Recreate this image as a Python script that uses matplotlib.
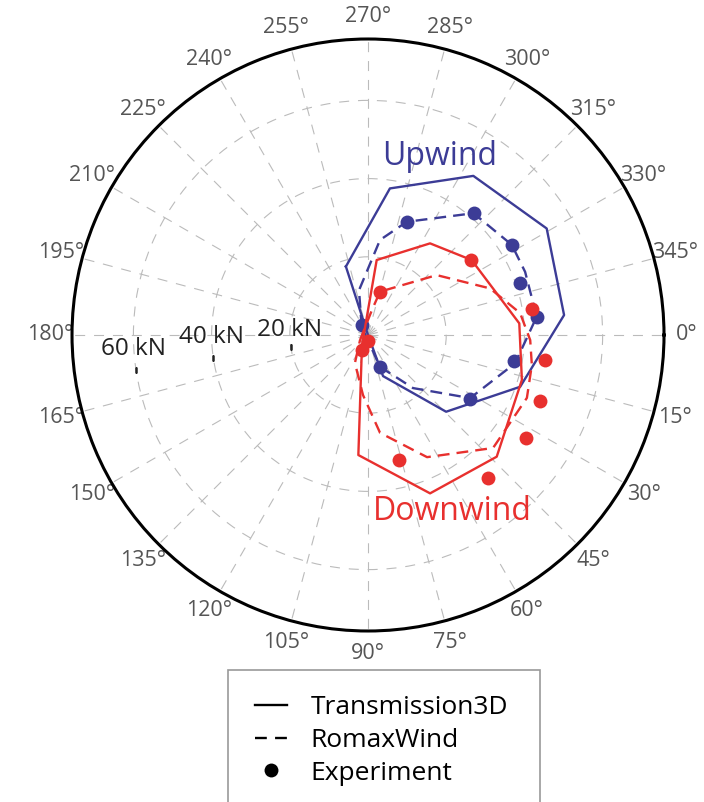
import numpy as np
import matplotlib.pyplot as plt
from matplotlib.lines import Line2D
from matplotlib.patches import Rectangle

plt.rcParams['font.family'] = ['Open Sans', 'DejaVu Sans']

# bearing load loci: angle (deg, clockwise from 0) and magnitude (kN)
up_t3d_theta = [252.1, 278.5, 303.5, 329.2, 354.2, 18.8, 44.5, 69.9, 160.0]
up_t3d_r = [18.4, 37.9, 48.8, 53.2, 50.4, 41.1, 28.0, 11.2, 0.0]

up_romax_theta = [232.8, 258.7, 277.2, 288.9, 310.9, 327.9, 338.1, 353.8, 10.9, 31.7, 49.7, 69.3]
up_romax_r = [2.7, 11.7, 24.5, 30.6, 41.2, 43.4, 43.3, 43.4, 38.3, 30.7, 17.8, 8.7]

up_exp_theta = [238, 289, 311, 328, 341, 354, 10, 32, 69]
up_exp_r = [3.0, 30.6, 41.2, 43.4, 41.2, 43.4, 37.8, 30.7, 8.7]

down_t3d_theta = [121.0, 276.6, 304.1, 324.1, 355.6, 16.3, 43.4, 68.6, 94.6]
down_t3d_r = [3.0, 19.3, 28.3, 32.7, 38.8, 41.0, 45.3, 43.5, 30.8]

down_romax_theta = [148, 279, 285.5, 318.9, 339.1, 351.8, 1.8, 10.4, 21.6, 42.1, 64.2, 83, 94.8, 115.1]
down_romax_r = [2.4, 6.5, 11.5, 23.3, 33.4, 39.3, 41.5, 42.6, 43.7, 43.1, 34.7, 25.2, 15.4, 7.9]

down_exp_theta = [95, 112, 286, 324, 351, 8, 21, 33, 50, 76]
down_exp_r = [1.5, 4.1, 11.5, 32.7, 42.4, 45.7, 47.0, 48.2, 47.9, 32.9]

angle_ticks = list(range(0, 360, 15))
r_ticks = [20, 40, 60]
r_max = 75.7

blue = '#3c3c96'
red = '#e8302e'


def closed(theta, r):
    th = np.deg2rad(np.append(theta, theta[0]))
    return th, np.append(r, r[0])


fig = plt.figure(figsize=(7.04, 8.02), dpi=100)
ax = fig.add_axes([0.1023, 0.2132, 0.8409, 0.7382], projection='polar')
ax.set_theta_zero_location('E')
ax.set_theta_direction(-1)
ax.set_rlim(0, r_max)
ax.set_axisbelow(True)

ax.set_thetagrids(angle_ticks, [f'{a}°' for a in angle_ticks], fontsize=15.5, color='#555555')
ax.set_rticks(r_ticks)
ax.set_yticklabels([])
ax.grid(True, color='#bbbbbb', linestyle=(0, (9, 8)), linewidth=0.8)
ax.tick_params(axis='x', direction='in', length=5, width=1.5, color='black', pad=9)
ax.spines['polar'].set_linewidth(2.2)
ax.spines['polar'].set_color('black')

# radial labels on the 180 deg side
label_theta = {20: 183.9, 40: 179.3, 60: 176.6}
for rv in r_ticks:
    ax.text(np.deg2rad(label_theta[rv]), rv, f'{rv} kN', fontsize=17.5, color='#222222',
            ha='center', va='center')
    ax.plot(np.deg2rad(171.5), rv, marker='|', color='#222222', markersize=4, mew=1.8)

ax.plot(*closed(up_t3d_theta, up_t3d_r), color=blue, lw=1.7)
ax.plot(*closed(up_romax_theta, up_romax_r), color=blue, lw=1.7, ls=(0, (5, 3)))
ax.plot(np.deg2rad(up_exp_theta), up_exp_r, 'o', color=blue, markersize=10, mew=0)

ax.plot(*closed(down_t3d_theta, down_t3d_r), color=red, lw=1.7)
ax.plot(*closed(down_romax_theta, down_romax_r), color=red, lw=1.7, ls=(0, (5, 3)))
ax.plot(np.deg2rad(down_exp_theta), down_exp_r, 'o', color=red, markersize=10, mew=0)

fig.text(0.625, 0.805, 'Upwind', color=blue, fontsize=23, ha='center', va='center')
fig.text(0.642, 0.362, 'Downwind', color=red, fontsize=23, ha='center', va='center')

handles = [
    Line2D([], [], color='black', lw=1.7),
    Line2D([], [], color='black', lw=1.7, ls=(0, (5, 3.5))),
    Line2D([], [], color='black', marker='o', ls='none', markersize=10, mew=0),
]
fig.legend(handles, ['Transmission3D', 'RomaxWind', 'Experiment'], loc='upper left',
           bbox_to_anchor=(0.344, 0.15), frameon=False, fontsize=19,
           handlelength=1.2, handletextpad=0.9, labelspacing=0.3, borderpad=0)
fig.patches.append(Rectangle((0.324, -0.02), 0.443, 0.1846, transform=fig.transFigure,
                             fill=False, edgecolor='#999999', lw=1.2, clip_on=False))

fig.savefig('out.png', dpi=100, facecolor='white')
